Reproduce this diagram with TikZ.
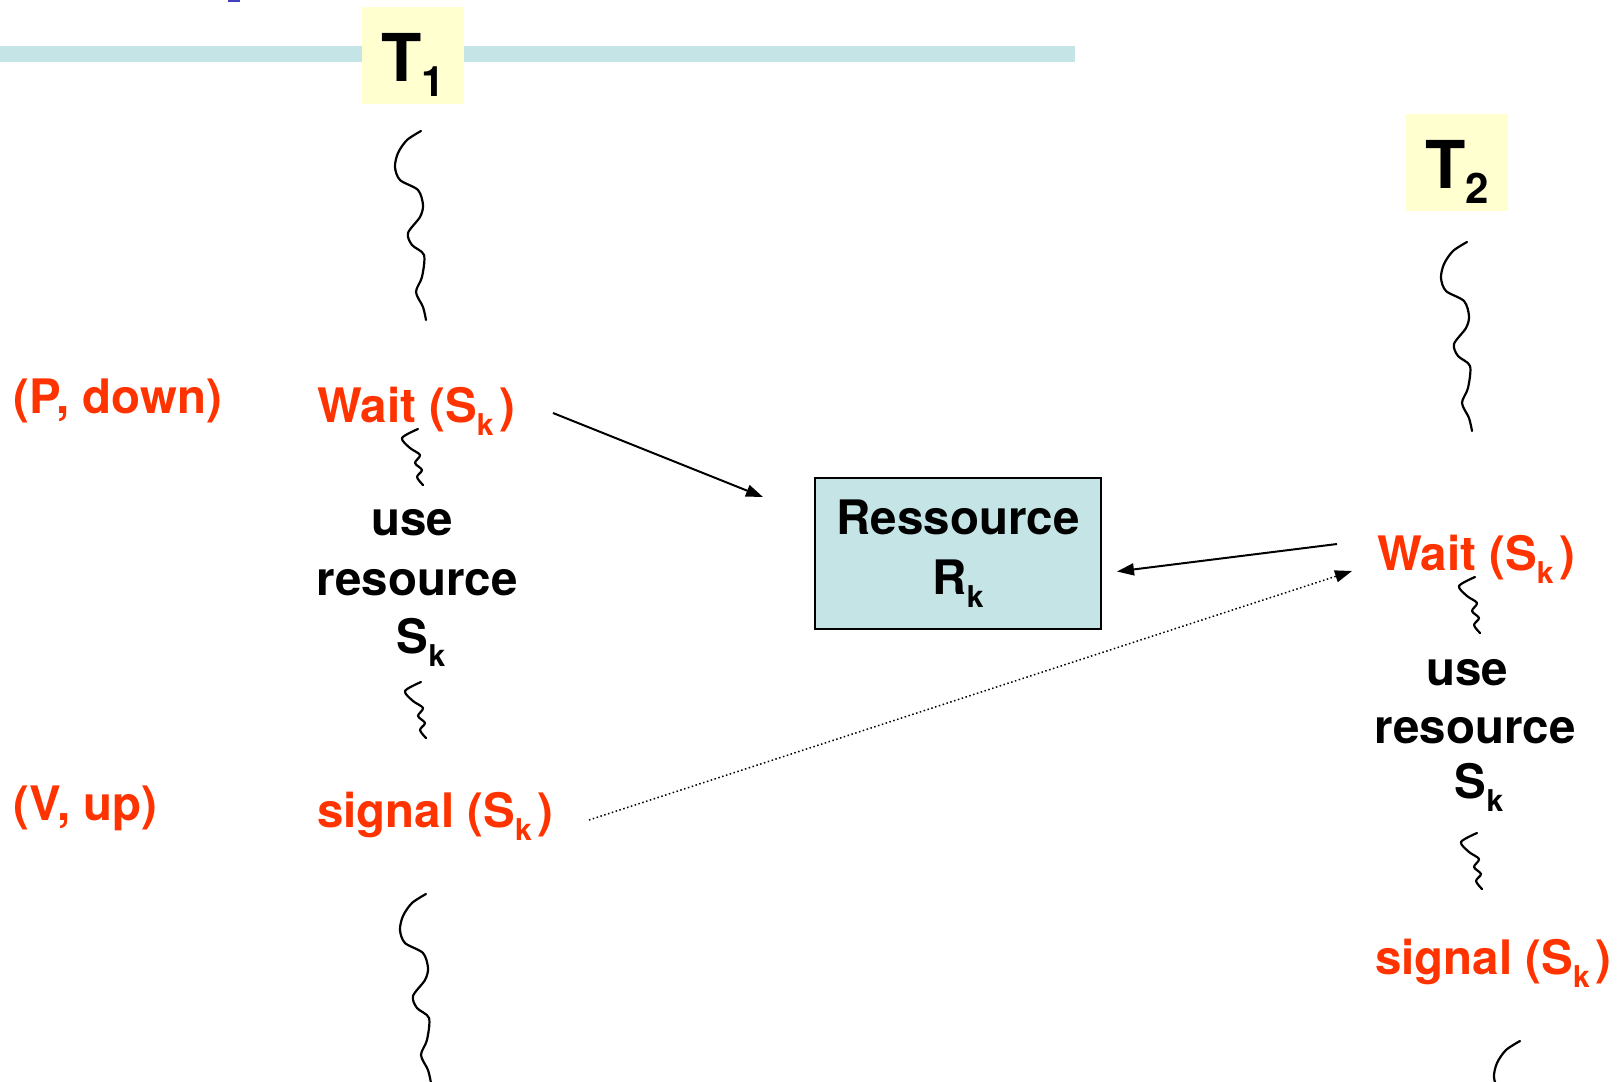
\documentclass[tikz,border=0pt]{standalone}
\usepackage{fontspec}
\setmainfont{TeX Gyre Heros}
\usetikzlibrary{arrows.meta}

\definecolor{sigred}{RGB}{255,51,0}
\definecolor{bandcyan}{RGB}{196,228,230}
\definecolor{headyellow}{RGB}{255,255,208}
\definecolor{titleblue}{RGB}{64,64,192}

\newcommand{\lowsub}[1]{\raisebox{-13pt}{\fontsize{30}{30}\selectfont #1}}

\tikzset{
  redlabel/.style={text=sigred, inner sep=0pt, anchor=base west,
    font=\fontsize{47.5}{59}\selectfont\bfseries},
  blacklabel/.style={inner sep=0pt, anchor=base,
    font=\fontsize{47.5}{59}\selectfont\bfseries},
  head/.style={fill=headyellow, minimum width=102pt, minimum height=97pt,
    inner sep=0pt, text height=52pt, text depth=0pt,
    font=\fontsize{66}{66}\selectfont\bfseries},
  resbox/.style={draw, line width=2pt, fill=bandcyan, minimum width=286pt,
    minimum height=151pt, inner sep=0pt, align=center,
    font=\fontsize{47.5}{60}\selectfont\bfseries},
  wave/.style={line width=2.2pt, line cap=round, line join=round},
  link/.style={line width=2pt, -{Triangle[length=17pt,width=12pt]}},
  longwave/.pic={\draw[wave] plot[smooth] coordinates {(0,0) (-14,9) (-23,22)
    (-26,36) (-21,49) (-3,59) (2,74) (-1,86) (-13,102) (-9,114) (3,124)
    (1,146) (-5,161) (2,176) (5,189)};},
  shortwave/.pic={\draw[wave] plot[smooth] coordinates {(0,0) (-16,9) (-8,19)
    (2,26) (-3,34) (4,41) (-1,48) (5,56)};}
}

\begin{document}
\begin{tikzpicture}[x=1pt, y=-1pt]
    \useasboundingbox (0,0) rectangle (1618,1082);

    % Title band
    \fill[titleblue] (228,0) rectangle (240,2);
    \fill[bandcyan] (0,46) rectangle (1075,62);

    % Task headers
    \node[head] (t1) at (413,55.5) {T\raisebox{-15pt}{\fontsize{42}{42}\selectfont 1}};
    \node[head] (t2) at (1457,162.5) {T\raisebox{-15pt}{\fontsize{42}{42}\selectfont 2}};

    % Operation names
    \node[redlabel] (pdown) at (13,413) {(P, down)};
    \node[redlabel] (vup) at (13,820) {(V, up)};

    % Task 1
    \node[redlabel] (wait1) at (317,422) {Wait (S\lowsub{k}\kern6pt)};
    \node[blacklabel] (use1) at (412,535) {use};
    \node[blacklabel] (res1) at (417,595) {resource};
    \node[blacklabel] (sk1) at (421,653) {S\lowsub{k}};
    \node[redlabel] (signal1) at (317,827) {signal (S\lowsub{k}\kern6pt)};

    % Task 2
    \node[redlabel] (wait2) at (1377,570) {Wait (S\lowsub{k}\kern6pt)};
    \node[blacklabel] (use2) at (1467,685) {use};
    \node[blacklabel] (res2) at (1475,743) {resource};
    \node[blacklabel] (sk2) at (1479,798) {S\lowsub{k}};
    \node[redlabel] (signal2) at (1375,974) {signal (S\lowsub{k}\kern6pt)};

    % The resource
    \node[resbox] (rk) at (958,553.5) {Ressource\\R\lowsub{k}};

    % Draw the threads
    \pic at (421,131) {longwave};
    \pic at (418,429) {shortwave};
    \pic at (421,682) {shortwave};
    \pic at (426,894) {longwave};
    \pic at (1467,242) {longwave};
    \pic at (1475,577) {shortwave};
    \pic at (1477,833) {shortwave};
    \pic at (1520,1041) {longwave};

    % Draw the requests
    \draw[link] ([shift={(236,-9)}]wait1.base west) -- ([shift={(-51,20)}]rk.north west);
    \draw[link] ([shift={(-40,-26)}]wait2.base west) -- ([shift={(15,18)}]rk.east);
    \draw[link, line width=1.5pt, dash pattern=on 1.5pt off 2.5pt]
      ([shift={(272,-7)}]signal1.base west) -- ([shift={(-25,1)}]wait2.base west);
\end{tikzpicture}
\end{document}
